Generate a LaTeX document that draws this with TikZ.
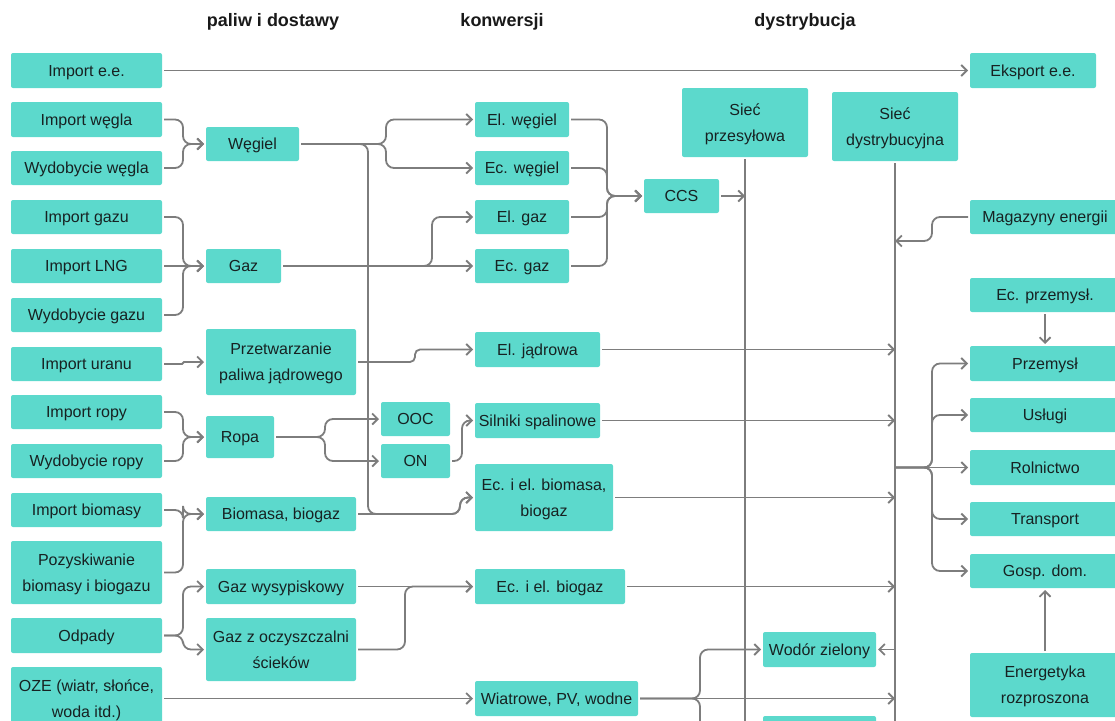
\documentclass[tikz,border=0pt]{standalone}
\usepackage{fontspec}
\setmainfont{Liberation Sans}
\usetikzlibrary{arrows.meta}

\definecolor{boxfill}{HTML}{5CD9CC}
\definecolor{ink}{HTML}{172222}
\definecolor{linegrey}{HTML}{7D7D7D}

\tikzset{
  box/.style={fill=boxfill, rounded corners=2pt, inner sep=0pt, outer sep=2pt,
    text=ink, font=\fontsize{16}{26}\selectfont, align=center, text depth=0pt},
  wire/.style={draw=linegrey, line width=1.8pt, rounded corners=8pt},
  arr/.style={wire, -{Straight Barb[length=5.5pt,width=11pt]}},
  colhead/.style={font=\bfseries\fontsize{18}{22}\selectfont, text=black!90}
}

% box from (x1,y1) to (x2,y2), y measured downwards
\newcommand{\bx}[6]{\node[box, minimum width={#4-#2}, minimum height={#5-#3}] (#1) at ({(#2+#4)/2},{(#3+#5)/2}) {#6};}

\begin{document}
\begin{tikzpicture}[x=1pt, y=-1pt]
\useasboundingbox (0,0) rectangle (1115,720);
\clip (0,0) rectangle (1115,720);

% column headings
\node[colhead] (h1) at (273,22) {paliw i dostawy};
\node[colhead] (h2) at (502,22) {konwersji};
\node[colhead] (h3) at (805,22) {dystrybucja};

% sources
\bx{impee}{11}{53}{162}{88}{Import e.e.}
\bx{impw}{11}{102}{162}{137}{Import węgla}
\bx{wydw}{11}{151}{162}{185}{Wydobycie węgla}
\bx{impg}{11}{200}{162}{234}{Import gazu}
\bx{lng}{11}{249}{162}{283}{Import LNG}
\bx{wydg}{11}{298}{162}{332}{Wydobycie gazu}
\bx{impu}{11}{347}{162}{381}{Import uranu}
\bx{impr}{11}{395}{162}{429}{Import ropy}
\bx{wydr}{11}{444}{162}{478}{Wydobycie ropy}
\bx{impb}{11}{493}{162}{527}{Import biomasy}
\bx{pozb}{11}{541}{162}{604}{Pozyskiwanie\\biomasy i biogazu}
\bx{odp}{11}{618}{162}{653}{Odpady}
\bx{oze}{11}{667}{162}{730}{OZE (wiatr, słońce,\\woda itd.)}

% fuels
\bx{weg}{206}{127}{299}{161}{Węgiel}
\bx{gaz}{206}{249}{281}{283}{Gaz}
\bx{prze}{206}{329}{356}{395}{Przetwarzanie\\paliwa jądrowego}
\bx{ropa}{206}{416}{274}{458}{Ropa}
\bx{bio}{206}{497}{356}{531}{Biomasa, biogaz}
\bx{wys}{206}{569}{356}{604}{Gaz wysypiskowy}
\bx{ocz}{206}{618}{356}{681}{Gaz z oczyszczalni\\ścieków}

% conversion
\bx{ooc}{381}{402}{450}{436}{OOC}
\bx{on}{381}{444}{450}{478}{ON}
\bx{elw}{475}{102}{569}{137}{El. węgiel}
\bx{ecw}{475}{151}{569}{185}{Ec. węgiel}
\bx{elg}{475}{200}{569}{234}{El. gaz}
\bx{ecg}{475}{249}{569}{283}{Ec. gaz}
\bx{jad}{475}{332}{600}{367}{El. jądrowa}
\bx{sil}{475}{403}{600}{438}{Silniki spalinowe}
\bx{ecb}{475}{464}{613}{531}{Ec. i el. biomasa,\\biogaz}
\bx{ecbg}{475}{569}{625}{604}{Ec. i el. biogaz}
\bx{wia}{475}{681}{638}{716}{Wiatrowe, PV, wodne}

% distribution
\bx{ccs}{644}{179}{719}{213}{CCS}
\bx{sp}{682}{88}{808}{157}{Sieć\\przesyłowa}
\bx{sd}{832}{92}{958}{161}{Sieć\\dystrybucyjna}
\bx{wod}{763}{632}{876}{667}{Wodór zielony}
\bx{h2b}{763}{716}{876}{751}{}

% end use
\bx{eks}{970}{53}{1096}{88}{Eksport e.e.}
\bx{mag}{970}{200}{1120}{234}{Magazyny energii}
\bx{ecp}{970}{278}{1120}{312}{Ec. przemysł.}
\bx{prz}{970}{346}{1120}{381}{Przemysł}
\bx{usl}{970}{398}{1120}{432}{Usługi}
\bx{rol}{970}{450}{1120}{485}{Rolnictwo}
\bx{tra}{970}{502}{1120}{536}{Transport}
\bx{gos}{970}{554}{1120}{588}{Gosp. dom.}
\bx{ene}{970}{653}{1120}{717}{Energetyka\\rozproszona}

% routing columns
\coordinate (cA) at (183,0);
\coordinate (cR) at (325,0);
\coordinate (cV) at (368,0);
\coordinate (cB) at (386,0);
\coordinate (cG) at (405,0);
\coordinate (cJ) at (415,0);
\coordinate (cC) at (432,0);
\coordinate (cE) at (460,0);
\coordinate (cN) at (462,0);
\coordinate (cD) at (607,0);
\coordinate (cW) at (700,0);
\coordinate (cM) at (932,0);

% grid trunks
\coordinate (spend) at (745,730);
\coordinate (sdend) at (895,730);
\draw[wire] (sp.south) -- (spend);
\draw[wire] (sd.south) -- (sdend);

% electricity import / export
\draw[arr] (impee.east) -- (eks.west);

% sources into fuels
\foreach \s/\t in {impw/weg, wydw/weg, impg/gaz, wydg/gaz, impr/ropa, wydr/ropa, impb/bio, pozb/bio, odp/wys, odp/ocz}
  \draw[arr] (\s.east) -- (\s.east -| cA) |- (\t.west);
\draw[arr] (lng.east) -- (gaz.west);
\draw[arr, rounded corners=1pt] (impu.east) -- (impu.east -| cA) |- (prze.west);

% fuels into conversion
\draw[arr] (weg.east) -- (weg.east -| cB) |- (elw.west);
\draw[arr] (weg.east) -- (weg.east -| cB) |- (ecw.west);
\draw[arr] (weg.east) -- (weg.east -| cV) |- (bio.east -| cE) |- (ecb.west);
\draw[arr] (bio.east) -- (bio.east -| cE) |- (ecb.west);
\draw[arr] (gaz.east) -- (ecg.west);
\draw[arr] (gaz.east) -- (gaz.east -| cC) |- (elg.west);
\draw[arr, rounded corners=5pt] (prze.east) -- (prze.east -| cJ) |- (jad.west);
\draw[arr] (ropa.east) -- (ropa.east -| cR) |- (ooc.west);
\draw[arr] (ropa.east) -- (ropa.east -| cR) |- (on.west);
\draw[arr] (on.east) -- (on.east -| cN) |- (sil.west);
\draw[arr] (wys.east) -- (ecbg.west);
\draw[arr] (ocz.east) -- (ocz.east -| cG) |- (ecbg.west);
\draw[arr] (oze.east) -- (wia.west);

% carbon capture
\foreach \s in {elw,ecw,elg,ecg}
  \draw[arr] (\s.east) -- (\s.east -| cD) |- (ccs.west);
\coordinate (ccsin) at (745,196);
\draw[arr] (ccs.east) -- (ccsin);

% into the distribution grid
\foreach \s in {jad,sil,ecb,ecbg,wia}
  \draw[arr] (\s.east) -- (\s.east -| sd.south);
\draw[arr] (wia.east) -- (wia.east -| cW) |- (wod.west);
\draw[arr] (wia.east) -- (wia.east -| cW) |- (h2b.west);
\coordinate (h2in) at (895,649.5);
\draw[arr] (h2in) -- (wod.east);
\coordinate (magin) at (895,241);
\draw[arr] (mag.west) -- (mag.west -| cM) |- (magin);

% grid to consumers
\coordinate (sdout) at (895,467.5);
\foreach \t in {prz,usl,tra,gos}
  \draw[arr] (sdout) -- (sdout -| cM) |- (\t.west);
\draw[arr] (sdout) -- (rol.west);
\draw[arr] (ecp.south) -- (prz.north);
\draw[arr] (ene.north) -- (gos.south);
\end{tikzpicture}
\end{document}
